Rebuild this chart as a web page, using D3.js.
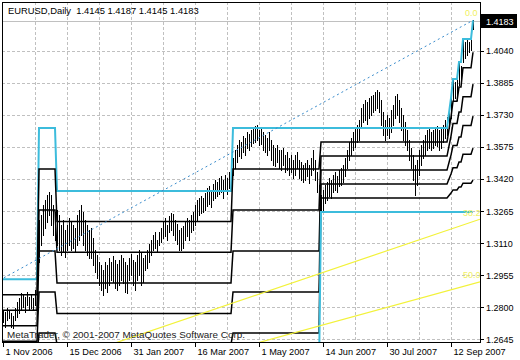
<!DOCTYPE html>
<html><head><meta charset="utf-8">
<script src="https://cdn.jsdelivr.net/npm/d3@7"></script>
<style>body{margin:0;background:#fff}</style>
</head><body>
<script>
// ---- data ----
const symbolTitle = "EURUSD,Daily  1.4145 1.4187 1.4145 1.4183";
const highs = [
1.2788,1.2778,1.2797,1.2788,1.2773,1.2759,1.2797,1.2826,1.2846,1.2870,
1.2860,1.2850,1.2875,1.2850,1.2860,1.2846,1.2884,1.3020,1.3222,1.3247,
1.3295,1.3319,1.3343,1.3358,1.3343,1.3295,1.3261,1.3271,1.3247,1.3198,
1.3222,1.3174,1.3198,1.3232,1.3213,1.3198,1.3184,1.3247,1.3271,1.3295,
1.3261,1.3222,1.3198,1.3174,1.3184,1.3135,1.3078,1.3053,1.3020,1.3005,
1.2981,1.3020,1.3005,1.3039,1.3020,1.3049,1.3029,1.3010,1.3029,1.3053,
1.3039,1.3020,1.3005,1.3039,1.3058,1.3029,1.3020,1.3053,1.3078,1.3068,
1.3039,1.3053,1.3078,1.3107,1.3126,1.3150,1.3164,1.3126,1.3164,1.3184,
1.3213,1.3232,1.3198,1.3242,1.3256,1.3251,1.3222,1.3203,1.3174,1.3184,
1.3193,1.3213,1.3232,1.3222,1.3247,1.3261,1.3295,1.3319,1.3329,1.3338,
1.3329,1.3353,1.3377,1.3387,1.3367,1.3396,1.3416,1.3406,1.3425,1.3435,
1.3416,1.3440,1.3425,1.3454,1.3474,1.3522,1.3561,1.3585,1.3609,1.3599,
1.3628,1.3618,1.3647,1.3638,1.3657,1.3667,1.3676,1.3681,1.3657,1.3672,
1.3647,1.3633,1.3618,1.3647,1.3609,1.3585,1.3570,1.3585,1.3561,1.3561,
1.3570,1.3536,1.3551,1.3522,1.3536,1.3513,1.3536,1.3551,1.3513,1.3503,
1.3488,1.3498,1.3513,1.3488,1.3522,1.3561,1.3513,1.3454,1.3392,1.3343,
1.3367,1.3392,1.3406,1.3425,1.3416,1.3440,1.3454,1.3435,1.3464,1.3474,
1.3488,1.3522,1.3561,1.3599,1.3618,1.3647,1.3667,1.3681,1.3705,1.3763,
1.3783,1.3802,1.3792,1.3812,1.3821,1.3826,1.3841,1.3850,1.3841,1.3802,
1.3744,1.3705,1.3730,1.3715,1.3754,1.3778,1.3821,1.3831,1.3802,1.3763,
1.3730,1.3696,1.3657,1.3609,1.3570,1.3536,1.3488,1.3513,1.3561,1.3585,
1.3609,1.3633,1.3657,1.3667,1.3647,1.3657,1.3667,1.3676,1.3657,1.3667,
1.3681,1.3705,1.3720,1.3739,1.3812,1.3903,1.3889,1.3899,1.3986,1.3966,
1.4097,1.4082,1.4092,1.4082,1.4092,1.4187];
const lows = [
1.2730,1.2706,1.2739,1.2749,1.2706,1.2701,1.2739,1.2754,1.2773,1.2788,
1.2802,1.2778,1.2812,1.2788,1.2797,1.2788,1.2812,1.2836,1.3020,1.3102,
1.3150,1.3184,1.3213,1.3247,1.3198,1.3150,1.3126,1.3102,1.3078,1.3053,
1.3068,1.3044,1.3078,1.3102,1.3078,1.3087,1.3068,1.3102,1.3126,1.3150,
1.3102,1.3078,1.3053,1.3039,1.3039,1.3005,1.2971,1.2942,1.2908,1.2884,
1.2860,1.2894,1.2875,1.2908,1.2933,1.2923,1.2894,1.2884,1.2908,1.2933,
1.2918,1.2875,1.2870,1.2933,1.2957,1.2908,1.2884,1.2933,1.2957,1.2908,
1.2923,1.2981,1.2991,1.3020,1.3053,1.3078,1.3087,1.3068,1.3102,1.3116,
1.3135,1.3145,1.3126,1.3164,1.3174,1.3150,1.3126,1.3107,1.3078,1.3078,
1.3087,1.3126,1.3145,1.3126,1.3164,1.3174,1.3198,1.3222,1.3247,1.3256,
1.3261,1.3271,1.3290,1.3300,1.3285,1.3319,1.3329,1.3338,1.3348,1.3358,
1.3329,1.3367,1.3348,1.3377,1.3392,1.3440,1.3474,1.3503,1.3532,1.3522,
1.3551,1.3536,1.3570,1.3561,1.3580,1.3594,1.3599,1.3609,1.3585,1.3590,
1.3561,1.3551,1.3536,1.3561,1.3513,1.3488,1.3483,1.3503,1.3474,1.3464,
1.3488,1.3454,1.3464,1.3440,1.3454,1.3425,1.3440,1.3474,1.3425,1.3416,
1.3406,1.3416,1.3435,1.3401,1.3440,1.3464,1.3416,1.3358,1.3295,1.3261,
1.3271,1.3305,1.3319,1.3338,1.3329,1.3358,1.3367,1.3358,1.3387,1.3392,
1.3406,1.3435,1.3474,1.3513,1.3536,1.3561,1.3575,1.3599,1.3609,1.3667,
1.3696,1.3705,1.3686,1.3715,1.3730,1.3744,1.3754,1.3763,1.3744,1.3681,
1.3633,1.3609,1.3633,1.3618,1.3647,1.3681,1.3715,1.3730,1.3696,1.3657,
1.3609,1.3585,1.3561,1.3513,1.3474,1.3416,1.3343,1.3392,1.3440,1.3488,
1.3522,1.3536,1.3561,1.3570,1.3561,1.3570,1.3585,1.3580,1.3561,1.3570,
1.3599,1.3618,1.3633,1.3667,1.3715,1.3802,1.3812,1.3802,1.3874,1.3889,
1.3986,1.4005,1.4019,1.4034,1.4044,1.4145];
const bidPrice = 1.4183;
const priceTicks = [1.4040,1.3885,1.3730,1.3575,1.3420,1.3265,1.3110,1.2955,1.2800,1.2645];
const dateLabels = ["1 Nov 2006","15 Dec 2006","31 Jan 2007","16 Mar 2007","1 May 2007","14 Jun 2007","30 Jul 2007","12 Sep 2007"];
const dateBars = [0,32,64,96,128,160,192,224];
// price-level indicator: segments (start bar, top, bottom), 6 equal divisions
const levelStart  = [0,18,27,115,159,223,224,225,228,230,235];
const levelTop    = [1.2935,1.3666,1.3362,1.3666,1.3666,1.3739,1.3811,1.3903,1.3985,1.4097,1.4187];
const levelBottom = [1.2485,1.2478,1.2473,1.2478,1.3260,1.3260,1.3260,1.3260,1.3260,1.3260,1.3260];
// Fibonacci fan: two anchors (bar, price) and its levels
const fanBars = [-245, 235];
const fanPrices = [1.1640, 1.4187];
const fanLevels = [38.2, 50.0];
const copyright = "MetaTrader, \u00A9 2001-2007 MetaQuotes Software Corp.";

// ---- drawing ----
const W = 520, H = 360;
const L = 2, R = 480, T = 2, B = 342;
const nBars = highs.length;
const x = d3.scaleLinear().domain([-0.5, 238.5]).range([L, R]);
const y = d3.scaleLinear().domain([1.2645, 1.4040]).range([339.3, 50.7]);

const svg = d3.select("body").append("svg").attr("width", W).attr("height", H)
  .style("font-family", "'Liberation Sans', Arial, sans-serif");
svg.append("defs").append("clipPath").attr("id","clip")
  .append("rect").attr("x",L).attr("y",T).attr("width",R-L).attr("height",B-T);

const grid = svg.append("g").attr("shape-rendering","crispEdges");
priceTicks.forEach(t => grid.append("line").attr("x1",L).attr("x2",R)
  .attr("y1",Math.round(y(t))+0.5).attr("y2",Math.round(y(t))+0.5)
  .attr("stroke","#c0c0c0").attr("stroke-dasharray","3,2"));
d3.range(16, 239, 16).forEach(b => grid.append("line")
  .attr("x1",Math.round(x(b))+0.5).attr("x2",Math.round(x(b))+0.5)
  .attr("y1",T).attr("y2",B).attr("stroke","#c0c0c0").attr("stroke-dasharray","3,2"));
// bid line
grid.append("line").attr("x1",L).attr("x2",R)
  .attr("y1",Math.round(y(bidPrice))+0.5).attr("y2",Math.round(y(bidPrice))+0.5)
  .attr("stroke","#c0c0c0");

const plot = svg.append("g").attr("clip-path","url(#clip)");

// bars
plot.append("g").attr("shape-rendering","crispEdges").selectAll("line")
  .data(d3.range(nBars)).join("line")
  .attr("x1", i => Math.round(x(i))+0.5).attr("x2", i => Math.round(x(i))+0.5)
  .attr("y1", i => y(highs[i])).attr("y2", i => y(lows[i])+1)
  .attr("stroke","#000").attr("stroke-width",1);

// level lines
const line = d3.line().x(d => x(d[0])).y(d => y(d[1]));
for (let k = 0; k <= 6; k++) {
  const pts = [];
  levelStart.forEach((s, j) => {
    const e = j < levelStart.length-1 ? levelStart[j+1]-1 : nBars-1;
    const v = levelTop[j] - k*(levelTop[j]-levelBottom[j])/6;
    pts.push([s, v]); if (e > s) pts.push([e, v]);
  });
  const cyan = (k === 0 || k === 6);
  plot.append("path").datum(pts).attr("d", line).attr("fill","none")
    .attr("stroke", cyan ? "#3cbcdc" : "#000")
    .attr("stroke-width", cyan ? 2 : 1.5);
}

// Fibonacci fan
const [bA, bB] = fanBars, [pA, pB] = fanPrices;
plot.append("line").attr("x1",x(bA)).attr("y1",y(pA)).attr("x2",x(bB)).attr("y2",y(pB))
  .attr("stroke","#3a8ccc").attr("stroke-dasharray","2,3").attr("stroke-width",1);
fanLevels.forEach(lv => {
  const pL = pB - lv/100*(pB - pA);
  const bEnd = 238.5;
  const pEnd = pA + (pL - pA)*(bEnd - bA)/(bB - bA);
  plot.append("line").attr("x1",x(bA)).attr("y1",y(pA)).attr("x2",x(bEnd)).attr("y2",y(pEnd))
    .attr("stroke","#f2f23a").attr("stroke-width",1.2);
  plot.append("text").attr("x",x(bB)-10).attr("y",y(pL)-6).text(lv.toFixed(1))
    .attr("font-size","9px").attr("fill","#f0f060");
});
plot.append("text").attr("x",x(bB)-8).attr("y",y(pB)-4).text("0.0")
  .attr("font-size","9px").attr("fill","#f0f060");

// frame
svg.append("rect").attr("x",L+0.5).attr("y",T+0.5).attr("width",R-L).attr("height",B-T)
  .attr("fill","none").attr("stroke","#000").attr("shape-rendering","crispEdges");

// title + copyright
svg.append("text").attr("x",8).attr("y",14).text(symbolTitle)
  .attr("font-size","9.4px").attr("fill","#000").style("white-space","pre").attr("xml:space","preserve");
svg.append("text").attr("x",7).attr("y",338).text(copyright)
  .attr("font-size","9.9px").attr("fill","#222");

// price axis
priceTicks.forEach(t => {
  svg.append("line").attr("x1",R).attr("x2",R+4).attr("y1",Math.round(y(t))+0.5).attr("y2",Math.round(y(t))+0.5)
    .attr("stroke","#000").attr("shape-rendering","crispEdges");
  svg.append("text").attr("x",R+6).attr("y",y(t)+3.5).text(t.toFixed(4))
    .attr("font-size","9px").attr("fill","#000");
});
svg.append("rect").attr("x",R+1).attr("y",Math.round(y(bidPrice))-7).attr("width",36).attr("height",14).attr("fill","#000");
svg.append("text").attr("x",R+6).attr("y",y(bidPrice)+3.5).text(bidPrice.toFixed(4))
  .attr("font-size","9px").attr("fill","#fff");

// date axis
dateBars.forEach((b, i) => {
  const xx = Math.round(x(b))+0.5;
  svg.append("line").attr("x1",xx).attr("x2",xx).attr("y1",B).attr("y2",B+5)
    .attr("stroke","#000").attr("shape-rendering","crispEdges");
  svg.append("text").attr("x",xx+2).attr("y",355).text(dateLabels[i])
    .attr("font-size","9.2px").attr("fill","#000");
});
</script>
</body></html>
